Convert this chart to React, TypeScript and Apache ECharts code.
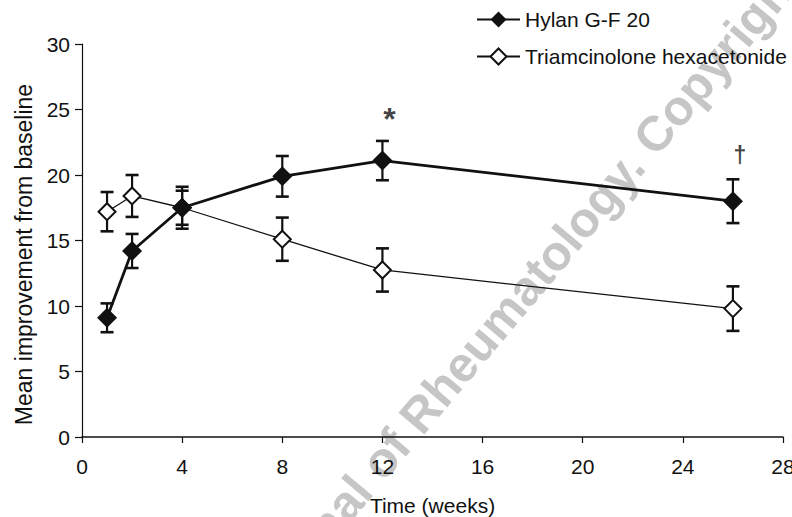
import React, { useEffect, useRef } from "react";
import * as echarts from "echarts";

const weeks = [1, 2, 4, 8, 12, 26];
const hylanMean = [9.1, 14.2, 17.5, 19.9, 21.1, 18.0];
const hylanErr = [1.1, 1.3, 1.3, 1.55, 1.5, 1.67];
const triamMean = [17.2, 18.4, 17.5, 15.1, 12.75, 9.8];
const triamErr = [1.5, 1.6, 1.6, 1.65, 1.65, 1.7];
const seriesNames = ["Hylan G-F 20", "Triamcinolone hexacetonide"];
const annotationWeeks = [12, 26];
const annotationValues = [24.3, 21.5];
const annotationMarks = ["*", "†"];
const watermarkText = "Journal of Rheumatology. Copyright";

const FONT = '"Liberation Sans", Arial, Helvetica, sans-serif';
const INK = "#111111";

function errorData(means: number[], errs: number[]) {
  return weeks.map((w, i) => [w, means[i] - errs[i], means[i] + errs[i]]);
}

function errorRender(params: any, api: any) {
  const x = api.value(0);
  const lo = api.value(1);
  const hi = api.value(2);
  const top = api.coord([x, hi]);
  const bot = api.coord([x, lo]);
  const hw = 6.5;
  return {
    type: "group",
    children: [
      { type: "line", shape: { x1: top[0], y1: top[1], x2: bot[0], y2: bot[1] }, style: { stroke: INK, lineWidth: 2.2 } },
      { type: "line", shape: { x1: top[0] - hw, y1: top[1], x2: top[0] + hw, y2: top[1] }, style: { stroke: INK, lineWidth: 2.6 } },
      { type: "line", shape: { x1: bot[0] - hw, y1: bot[1], x2: bot[0] + hw, y2: bot[1] }, style: { stroke: INK, lineWidth: 2.6 } },
    ],
  };
}

export default function App() {
  const ref = useRef<HTMLDivElement>(null);
  useEffect(() => {
    document.body.style.margin = "0";
    if (!ref.current) return;
    const chart = echarts.init(ref.current, null, { renderer: "svg" });
    const option: any = {
      animation: false,
      backgroundColor: "#ffffff",
      textStyle: { fontFamily: FONT, color: INK },
      grid: { left: 82, right: 9, top: 44, bottom: 80, containLabel: false, outerBoundsMode: "none" },
      legend: {
        data: seriesNames,
        orient: "vertical",
        left: 471,
        top: 4,
        itemWidth: 43,
        itemHeight: 20,
        itemGap: 16,
        textStyle: { fontSize: 21, color: INK, fontFamily: FONT },
        selectedMode: false,
      },
      graphic: [
        {
          type: "text",
          x: 520,
          y: 294,
          z: -10,
          rotation: (50 * Math.PI) / 180,
          silent: true,
          style: {
            text: watermarkText,
            fontSize: 49,
            fontWeight: "bold",
            fontFamily: FONT,
            fill: "#c6c6c6",
            align: "center",
            verticalAlign: "middle",
          },
        },
      ],
      xAxis: {
        type: "value",
        min: 0,
        max: 28,
        interval: 4,
        name: "Time (weeks)",
        nameLocation: "middle",
        nameGap: 58,
        nameTextStyle: { fontSize: 21, color: INK, fontFamily: FONT },
        axisLine: { show: true, lineStyle: { color: INK, width: 1.5 } },
        axisTick: { show: true, inside: false, length: 6, lineStyle: { color: INK, width: 1.2 } },
        axisLabel: { fontSize: 21, color: INK, margin: 19, fontFamily: FONT },
        splitLine: { show: false },
      },
      yAxis: {
        type: "value",
        min: 0,
        max: 30,
        interval: 5,
        name: "Mean improvement from baseline",
        nameLocation: "middle",
        nameGap: 44,
        nameTextStyle: { fontSize: 23, color: INK, fontFamily: FONT, padding: [0, 28, 0, 0] },
        axisLine: { show: true, lineStyle: { color: INK, width: 1.2 } },
        axisTick: { show: true, inside: false, length: 7, lineStyle: { color: INK, width: 1.2 } },
        axisLabel: { fontSize: 21, color: INK, margin: 12, fontFamily: FONT },
        splitLine: { show: false },
      },
      series: [
        {
          name: "hylan-error",
          type: "custom",
          z: 1,
          renderItem: errorRender,
          encode: { x: 0, y: [1, 2] },
          data: errorData(hylanMean, hylanErr),
          silent: true,
        },
        {
          name: "triam-error",
          type: "custom",
          z: 1,
          renderItem: errorRender,
          encode: { x: 0, y: [1, 2] },
          data: errorData(triamMean, triamErr),
          silent: true,
        },
        {
          name: seriesNames[1],
          type: "line",
          z: 3,
          data: weeks.map((w, i) => [w, triamMean[i]]),
          symbol: "diamond",
          symbolSize: 17,
          lineStyle: { color: INK, width: 1.3 },
          itemStyle: { color: "#ffffff", borderColor: INK, borderWidth: 2 },
        },
        {
          name: seriesNames[0],
          type: "line",
          z: 4,
          data: weeks.map((w, i) => [w, hylanMean[i]]),
          symbol: "diamond",
          symbolSize: 20,
          lineStyle: { color: INK, width: 2.8 },
          itemStyle: { color: INK, borderColor: INK, borderWidth: 0 },
        },
        {
          name: "annotations",
          type: "scatter",
          z: 5,
          symbolSize: 0,
          silent: true,
          data: annotationWeeks.map((w, i) => ({
            value: [w, annotationValues[i]],
            label: {
              show: true,
              position: "inside",
              offset: [7, 0],
              formatter: annotationMarks[i],
              fontSize: annotationMarks[i] === "*" ? 32 : 23,
              fontWeight: "bold",
              color: INK,
              fontFamily: FONT,
            },
          })),
        },
      ],
    };
    chart.setOption(option);
    return () => chart.dispose();
  }, []);
  return <div ref={ref} style={{ width: 792, height: 517 }} />;
}
